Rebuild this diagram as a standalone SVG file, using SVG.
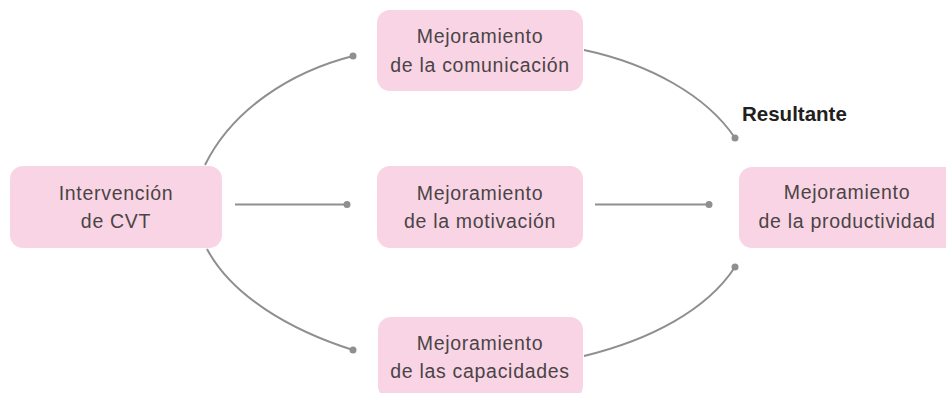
<svg xmlns="http://www.w3.org/2000/svg" width="946" height="393" viewBox="0 0 946 393">
<style>
.box{fill:#f9d4e4;}
.t{font-family:"Liberation Sans",Arial,sans-serif;font-size:19.5px;letter-spacing:0.7px;fill:#4a4446;text-anchor:middle;}
.lbl{font-family:"Liberation Sans",Arial,sans-serif;font-size:20.5px;font-weight:bold;fill:#231f20;}
.c{fill:none;stroke:#8f8f91;stroke-width:2;}
.d{fill:#8f8f91;}
</style>
<rect width="946" height="393" fill="#ffffff"/>
<g id="connectors">
<path class="c" d="M205,165 C232,110 290,72 353,56"/>
<circle class="d" cx="353" cy="56" r="3.5"/>
<path class="c" d="M235,204.5 L347,204.5"/>
<circle class="d" cx="347" cy="204.5" r="3.5"/>
<path class="c" d="M207,249 C232,296 290,330 353,350"/>
<circle class="d" cx="353" cy="350" r="3.5"/>
<path class="c" d="M584,50 C650,64 707,96 735,138"/>
<circle class="d" cx="735" cy="138" r="3.5"/>
<path class="c" d="M595,204.5 L709,204.5"/>
<circle class="d" cx="709" cy="204.5" r="3.5"/>
<path class="c" d="M584,356 C650,340 707,310 735,267"/>
<circle class="d" cx="735" cy="267" r="3.5"/>
</g>
<text class="lbl" x="742" y="121">Resultante</text>
<g id="n-intervencion">
<rect class="box" x="10" y="166" width="212" height="82" rx="13"/>
<text class="t" x="116" y="200">Intervención</text>
<text class="t" x="116" y="228">de CVT</text>
</g>
<g id="n-comunicacion">
<rect class="box" x="377" y="10" width="206" height="81" rx="13"/>
<text class="t" x="480" y="43">Mejoramiento</text>
<text class="t" x="480" y="72">de la comunicación</text>
</g>
<g id="n-motivacion">
<rect class="box" x="377" y="166" width="206" height="82" rx="13"/>
<text class="t" x="480" y="200">Mejoramiento</text>
<text class="t" x="480" y="228">de la motivación</text>
</g>
<g id="n-capacidades">
<rect class="box" x="378" y="317" width="205" height="82" rx="13"/>
<text class="t" x="480" y="350">Mejoramiento</text>
<text class="t" x="480" y="378">de las capacidades</text>
</g>
<g id="n-productividad">
<rect class="box" x="739" y="167" width="220" height="81" rx="13"/>
<text class="t" x="847" y="199">Mejoramiento</text>
<text class="t" x="847" y="228">de la productividad</text>
</g>
</svg>
